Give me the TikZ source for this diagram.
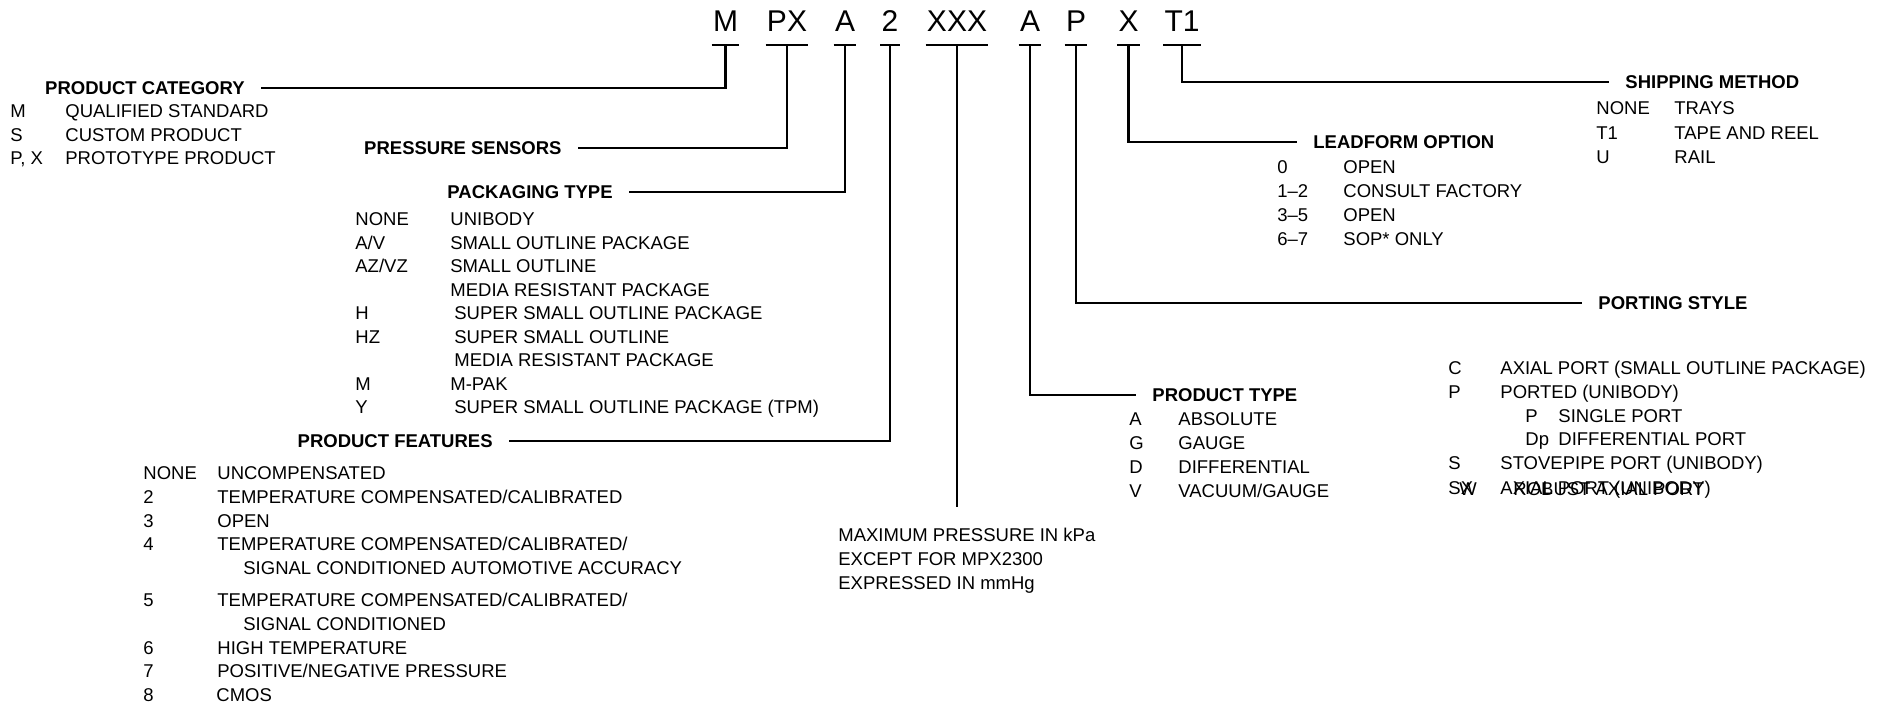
\documentclass[tikz,border=0pt]{standalone}
\usepackage{fontspec}
\setmainfont{Liberation Sans}

\begin{document}
\begin{tikzpicture}[x=0.5pt, y=-0.5pt,
  code/.style={anchor=south, font=\fontsize{15}{18}\selectfont, inner xsep=0.5pt, inner ysep=6.5pt, text depth=0pt},
  hdr/.style={font=\fontsize{9.25}{12}\selectfont\bfseries, inner xsep=8pt, inner ysep=0pt, text height=6.6pt, text depth=0pt},
  item/.style={anchor=west, font=\fontsize{9.25}{12}\selectfont, inner sep=0pt, text height=6.6pt, text depth=0pt},
  lead/.style={line width=1.4pt}]
\useasboundingbox (0,0) rectangle (1890,707);

% part number
\node[code] (cM)   at (725.5,45) {M};
\node[code] (cPX)  at (787,45)   {PX};
\node[code] (cA)   at (845,45)   {A};
\node[code] (c2)   at (890,45)   {2};
\node[code] (cXXX) at (957,45)   {XXX};
\node[code] (cA2)  at (1030,45)  {A};
\node[code] (cP)   at (1076,45)  {P};
\node[code] (cX)   at (1128.5,45) {X};
\node[code] (cT1)  at (1182,45)  {T1};
\draw[lead] (cM.south west) -- (cM.south east)
    (cPX.south west) -- (cPX.south east)
    (cA.south west) -- (cA.south east)
    (c2.south west) -- (c2.south east)
    (cXXX.south west) -- (cXXX.south east)
    (cA2.south west) -- (cA2.south east)
    (cP.south west) -- (cP.south east)
    (cX.south west) -- (cX.south east)
    (cT1.south west) -- (cT1.south east);

% product category
\node[hdr, anchor=east] (hCat) at (261,88) {PRODUCT CATEGORY};
\node[item] (cat1k) at (10,111) {M};    \node[item] (cat1v) at (65,111) {QUALIFIED STANDARD};
\node[item] (cat2k) at (10,135) {S};    \node[item] (cat2v) at (65,135) {CUSTOM PRODUCT};
\node[item] (cat3k) at (10,158) {P, X}; \node[item] (cat3v) at (65,158) {PROTOTYPE PRODUCT};

% pressure sensors
\node[hdr, anchor=east] (hSens) at (578,148) {PRESSURE SENSORS};

% packaging type
\node[hdr, anchor=east] (hPack) at (629,192) {PACKAGING TYPE};
\node[item] (pk1k) at (355,219) {NONE};   \node[item] (pk1v) at (450,219) {UNIBODY};
\node[item] (pk2k) at (355,242.5) {A/V};  \node[item] (pk2v) at (450,242.5) {SMALL OUTLINE PACKAGE};
\node[item] (pk3k) at (355,266) {AZ/VZ};  \node[item] (pk3v) at (450,266) {SMALL OUTLINE};
                                          \node[item] (pk3w) at (450,289.5) {MEDIA RESISTANT PACKAGE};
\node[item] (pk4k) at (355,313) {H};      \node[item] (pk4v) at (454,313) {SUPER SMALL OUTLINE PACKAGE};
\node[item] (pk5k) at (355,336.5) {HZ};   \node[item] (pk5v) at (454,336.5) {SUPER SMALL OUTLINE};
                                          \node[item] (pk5w) at (454,360) {MEDIA RESISTANT PACKAGE};
\node[item] (pk6k) at (355,383.5) {M};    \node[item] (pk6v) at (450,383.5) {M-PAK};
\node[item] (pk7k) at (355,407) {Y};      \node[item] (pk7v) at (454,407) {SUPER SMALL OUTLINE PACKAGE (TPM)};

% product features
\node[hdr, anchor=east] (hFeat) at (509,441) {PRODUCT FEATURES};
\node[item] (ft1k) at (143,473) {NONE}; \node[item] (ft1v) at (217,473) {UNCOMPENSATED};
\node[item] (ft2k) at (143,497) {2};    \node[item] (ft2v) at (217,497) {TEMPERATURE COMPENSATED/CALIBRATED};
\node[item] (ft3k) at (143,520.5) {3};  \node[item] (ft3v) at (217,520.5) {OPEN};
\node[item] (ft4k) at (143,544) {4};    \node[item] (ft4v) at (217,544) {TEMPERATURE COMPENSATED/CALIBRATED/};
                                        \node[item] (ft4w) at (243,568) {SIGNAL CONDITIONED AUTOMOTIVE ACCURACY};
\node[item] (ft5k) at (143,600) {5};    \node[item] (ft5v) at (217,600) {TEMPERATURE COMPENSATED/CALIBRATED/};
                                        \node[item] (ft5w) at (243,623.5) {SIGNAL CONDITIONED};
\node[item] (ft6k) at (143,647.5) {6};  \node[item] (ft6v) at (217,647.5) {HIGH TEMPERATURE};
\node[item] (ft7k) at (143,671) {7};    \node[item] (ft7v) at (217,671) {POSITIVE/NEGATIVE PRESSURE};
\node[item] (ft8k) at (143,695) {8};    \node[item] (ft8v) at (216,695) {CMOS};

% pressure range
\coordinate (xEnd) at (957,507);
\node[item] (mx1) at (838,535) {MAXIMUM PRESSURE IN kPa};
\node[item] (mx2) at (838,559) {EXCEPT FOR MPX2300};
\node[item] (mx3) at (838,583) {EXPRESSED IN mmHg};

% product type
\node[hdr, anchor=west] (hType) at (1136,395) {PRODUCT TYPE};
\node[item] (ty1k) at (1129,419) {A};   \node[item] (ty1v) at (1178,419) {ABSOLUTE};
\node[item] (ty2k) at (1129,443) {G};   \node[item] (ty2v) at (1178,443) {GAUGE};
\node[item] (ty3k) at (1129,467) {D};   \node[item] (ty3v) at (1178,467) {DIFFERENTIAL};
\node[item] (ty4k) at (1129,490.5) {V}; \node[item] (ty4v) at (1178,490.5) {VACUUM/GAUGE};

% porting style
\node[hdr, anchor=west] (hPort) at (1582,303) {PORTING STYLE};
\node[item] (po1k) at (1448,368) {C};   \node[item] (po1v) at (1500,368) {AXIAL PORT (SMALL OUTLINE PACKAGE)};
\node[item] (po2k) at (1448,392) {P};   \node[item] (po2v) at (1500,392) {PORTED (UNIBODY)};
\node[item] (po3k) at (1525,415.5) {P}; \node[item] (po3v) at (1558,415.5) {SINGLE PORT};
\node[item] (po4k) at (1525,439) {Dp};  \node[item] (po4v) at (1558,439) {DIFFERENTIAL PORT};
\node[item] (po5k) at (1448,463) {S};   \node[item] (po5v) at (1500,463) {STOVEPIPE PORT (UNIBODY)};
\node[item] (po6k) at (1448,488) {SX};  \node[item] (po6v) at (1500,488) {AXIAL PORT (UNIBODY)};
\node[item] (po7k) at (1459,489) {W};   \node[item] (po7v) at (1513,489) {ROBUST AXIAL PORT};

% leadform option
\node[hdr, anchor=west] (hLead) at (1297,142) {LEADFORM OPTION};
\node[item] (ld1k) at (1277,167) {0};   \node[item] (ld1v) at (1343,167) {OPEN};
\node[item] (ld2k) at (1277,191) {1--2}; \node[item] (ld2v) at (1343,191) {CONSULT FACTORY};
\node[item] (ld3k) at (1277,215) {3--5}; \node[item] (ld3v) at (1343,215) {OPEN};
\node[item] (ld4k) at (1277,239) {6--7}; \node[item] (ld4v) at (1343,239) {SOP* ONLY};

% shipping method
\node[hdr, anchor=west] (hShip) at (1609,82) {SHIPPING METHOD};
\node[item] (sh1k) at (1596,108) {NONE}; \node[item] (sh1v) at (1674,108) {TRAYS};
\node[item] (sh2k) at (1596,132.5) {T1}; \node[item] (sh2v) at (1674,132.5) {TAPE AND REEL};
\node[item] (sh3k) at (1596,157) {U};    \node[item] (sh3v) at (1674,157) {RAIL};

% leaders
\draw[lead] (cM.south) |- (hCat.east);
\draw[lead] (cPX.south) |- (hSens.east);
\draw[lead] (cA.south) |- (hPack.east);
\draw[lead] (c2.south) |- (hFeat.east);
\draw[lead] (cXXX.south) -- (xEnd);
\draw[lead] (cA2.south) |- (hType.west);
\draw[lead] (cP.south) |- (hPort.west);
\draw[lead] (cX.south) |- (hLead.west);
\draw[lead] (cT1.south) |- (hShip.west);
\end{tikzpicture}
\end{document}
